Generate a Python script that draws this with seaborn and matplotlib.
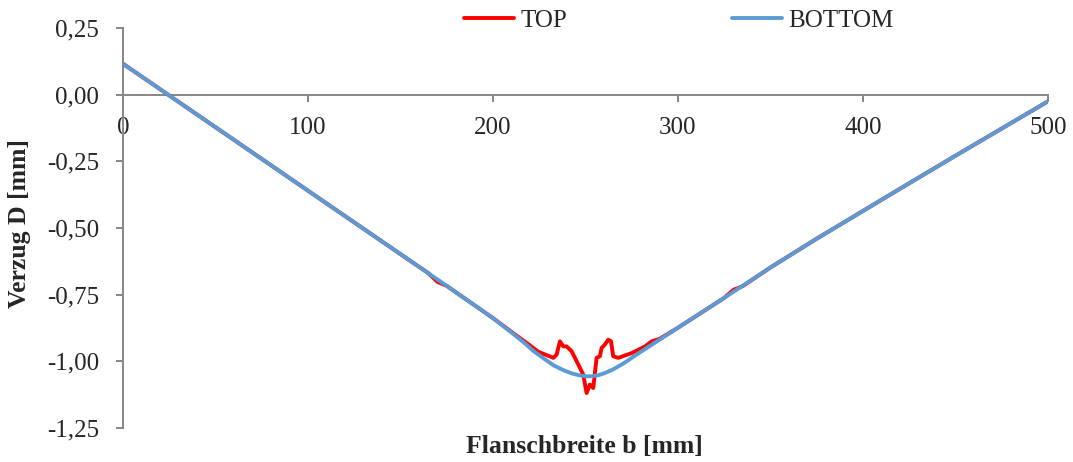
import pandas as pd
import matplotlib
matplotlib.use("Agg")
import matplotlib.pyplot as plt
from matplotlib.ticker import FuncFormatter
import seaborn as sns

# Flanschbreite b [mm] / Verzug D [mm]
x_bottom = [0, 25, 50, 75, 100, 125, 150, 175, 200, 210, 217, 222, 228, 233,
            239, 243, 247, 250, 253, 257, 260.5, 265, 271, 276, 282, 290, 300,
            325, 350, 375, 400, 425, 450, 475, 500]
y_bottom = [0.116, -0.003, -0.122, -0.241, -0.360, -0.479, -0.598, -0.717,
            -0.838, -0.892, -0.931, -0.962, -0.992, -1.016, -1.036, -1.046,
            -1.053, -1.056, -1.056, -1.052, -1.044, -1.030, -1.006, -0.982,
            -0.955, -0.919, -0.874, -0.762, -0.648, -0.540, -0.436, -0.332,
            -0.229, -0.127, -0.025]

x_top = [0, 25, 50, 75, 100, 125, 150, 165, 170, 175, 200, 207, 212, 218,
         224.5, 232.6, 234.4, 236.2, 238, 239.8, 242.5, 246.1, 248.8, 250.6,
         252.4, 254.2, 256, 257.8, 258.7, 260.5, 262.3, 263.8, 265, 267.7,
         275, 282.2, 285.8, 290, 300, 325, 330, 335, 350, 375, 400, 425, 450,
         475, 500]
y_top = [0.116, -0.003, -0.122, -0.241, -0.360, -0.479, -0.598, -0.669,
         -0.702, -0.717, -0.838, -0.874, -0.900, -0.930, -0.964, -0.987,
         -0.975, -0.925, -0.944, -0.944, -0.962, -1.012, -1.050, -1.119,
         -1.087, -1.100, -0.987, -0.981, -0.950, -0.937, -0.919, -0.925,
         -0.981, -0.987, -0.969, -0.944, -0.925, -0.916, -0.874, -0.762,
         -0.732, -0.718, -0.648, -0.540, -0.436, -0.332, -0.229, -0.127,
         -0.025]

x_ticks = [0, 100, 200, 300, 400, 500]
y_ticks = [0.25, 0.0, -0.25, -0.5, -0.75, -1.0, -1.25]

sns.set_style("white")
plt.rcParams['font.family'] = ['Liberation Serif', 'DejaVu Serif']

grey = "#868686"
fig = plt.figure(figsize=(10.73, 4.62), dpi=100)
ax = fig.add_axes([0.1146, 0.0736, 0.8621, 0.8658])

top = pd.DataFrame({'b': x_top, 'D': y_top})
bottom = pd.DataFrame({'b': x_bottom, 'D': y_bottom})
sns.lineplot(data=top, x='b', y='D', ax=ax, color='#FF0000', lw=2.8,
             label='TOP', sort=False)
sns.lineplot(data=bottom, x='b', y='D', ax=ax, color='#5B9BD5', lw=2.8,
             label='BOTTOM', sort=False)

ax.set_xlim(0, 500)
ax.set_ylim(-1.25, 0.25)
ax.set_xticks(x_ticks)
ax.set_yticks(y_ticks)
ax.yaxis.set_major_formatter(FuncFormatter(lambda v, p: f"{v:.2f}".replace('.', ',')))
ax.set_xlabel('')
ax.set_ylabel('')

for s in ['top', 'right']:
    ax.spines[s].set_visible(False)
ax.spines['bottom'].set_position(('data', 0))
for s in ['left', 'bottom']:
    ax.spines[s].set_color(grey)
    ax.spines[s].set_linewidth(1.4)
    ax.spines[s].set_zorder(1)

ax.tick_params(axis='x', direction='out', length=5, width=1.4, color=grey,
               labelsize=18, pad=11, bottom=True)
ax.tick_params(axis='y', direction='out', length=5, width=1.4, color=grey,
               labelsize=18, pad=12, left=True)

fig.text(0.5443, 1 - 447 / 462, 'Flanschbreite b [mm]', ha='center',
         va='center', fontsize=18.5, fontweight='bold')
fig.text(20 / 1073, 1 - 224 / 462, 'Verzug D [mm]', ha='center', va='center',
         rotation=90, fontsize=18.5, fontweight='bold')

ax.legend(loc='center', bbox_to_anchor=(0.633, 0.955),
          bbox_transform=fig.transFigure, ncol=2, frameon=False, fontsize=18,
          handlelength=2.0, handletextpad=0.25, columnspacing=6.6,
          borderpad=0, borderaxespad=0)

fig.savefig('out.png', dpi=100)
